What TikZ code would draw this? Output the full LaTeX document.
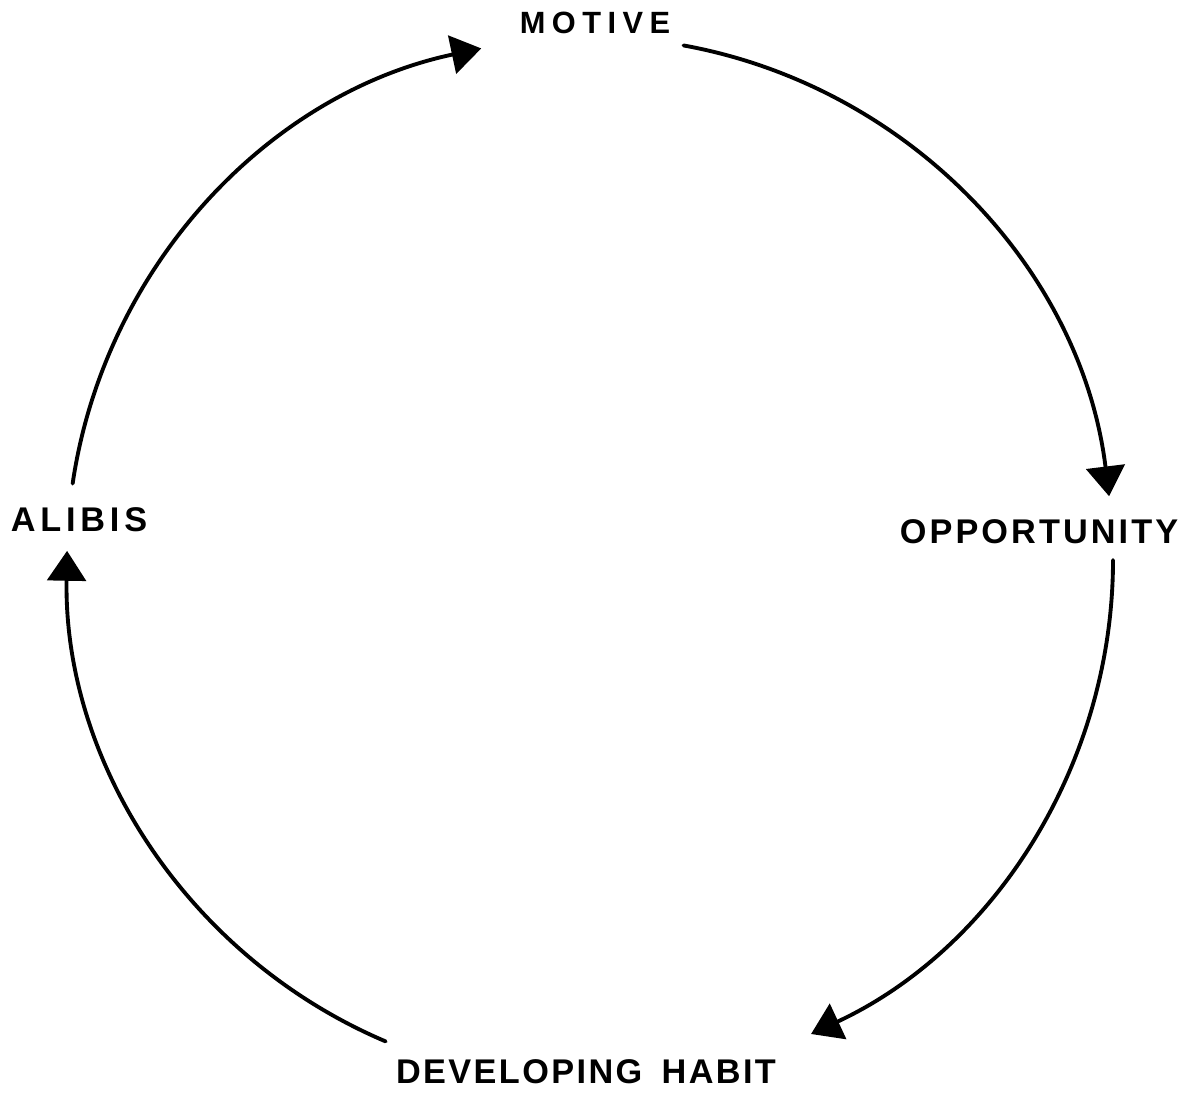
\documentclass[tikz,border=0pt]{standalone}
\usepackage{fontspec}
\setmainfont{Liberation Sans}
\newfontfamily\fmotive[LetterSpace=21]{Liberation Sans}
\newfontfamily\fopp[LetterSpace=9]{Liberation Sans}
\newfontfamily\falibi[LetterSpace=14]{Liberation Sans}
\newfontfamily\fhabit[LetterSpace=7]{Liberation Sans}
\usetikzlibrary{arrows.meta}
\begin{document}
\begin{tikzpicture}[x=0.02cm,y=0.02cm,
  lbl/.style={inner sep=0pt, text=black},
  cyc/.style={line width=2.2pt, line cap=round, -{Triangle[length=17pt,width=22pt]}}]
\useasboundingbox (0,0) rectangle (1192,1095);
\fill[white] (0,0) rectangle (1192,1095);
\coordinate (C) at (590,535);
% labels
\node[lbl, font=\fmotive\bfseries\fontsize{17.5}{20}\selectfont] (motive) at (595,1072) {MOTIVE};
\node[lbl, font=\fopp\bfseries\fontsize{19.5}{22}\selectfont] (opp) at (1039,563) {OPPORTUNITY};
\node[lbl, font=\falibi\bfseries\fontsize{19.5}{22}\selectfont] (alibis) at (79,575) {ALIBIS};
\node[lbl, font=\fhabit\bfseries\fontsize{19.5}{22}\selectfont] (habit) at (586,23) {DEVELOPING\hspace{11pt}HABIT};
% arc start points
\coordinate (s1) at ([shift={(79.7:523)}]C);
\coordinate (s2) at ([shift={(0:523)}]C);
\coordinate (s3) at ([shift={(-113:523)}]C);
\coordinate (s4) at ([shift={(171.6:523)}]C);
% connectors
\draw[cyc] (s1) arc[start angle=79.7, end angle=7, radius=523];
\draw[cyc] (s2) arc[start angle=0, end angle=-65, radius=523];
\draw[cyc] (s3) arc[start angle=-113, end angle=-181, radius=523];
\draw[cyc] (s4) arc[start angle=171.6, end angle=102, radius=523];
\end{tikzpicture}
\end{document}
